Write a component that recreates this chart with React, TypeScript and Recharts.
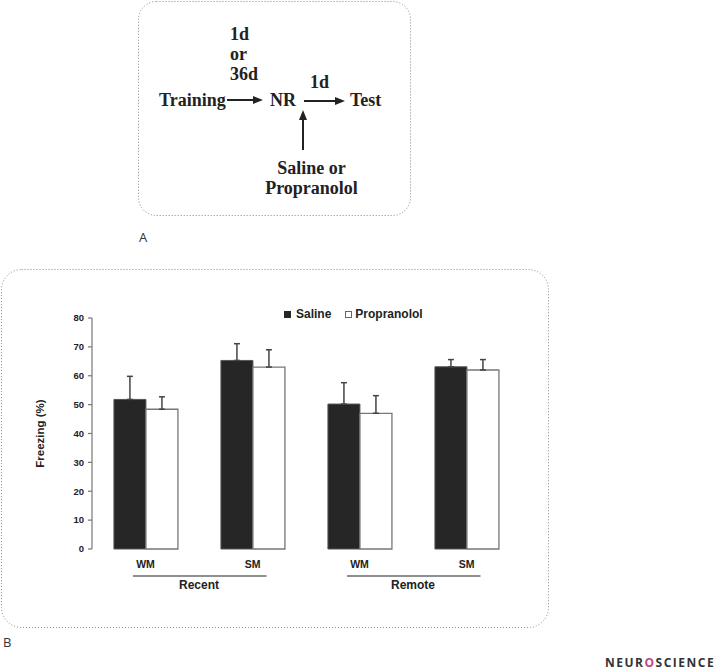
import React from 'react';
import { BarChart, Bar, XAxis, YAxis, ErrorBar, Legend } from 'recharts';

// values
const categories = ['WM', 'SM', 'WM', 'SM'];
const periods = ['Recent', 'Recent', 'Remote', 'Remote'];
const seriesNames = ['Saline', 'Propranolol'];
const saline = [51.8, 65.3, 50.2, 63.1];
const salineErr = [8.0, 5.8, 7.4, 2.5];
const propranolol = [48.4, 63.0, 47.0, 62.0];
const propranololErr = [4.3, 6.0, 6.1, 3.6];
const yTicks = [0, 10, 20, 30, 40, 50, 60, 70, 80];

const data = categories.map((c, i) => ({
  id: `${periods[i]}-${c}`,
  saline: saline[i],
  salineErr: [0, salineErr[i]],
  propranolol: propranolol[i],
  propranololErr: [0, propranololErr[i]],
}));

const FONT = '"Liberation Sans", Arial, sans-serif';
const SERIF = '"Liberation Serif", "Times New Roman", serif';

const CHART_W = 560;
const CHART_H = 360;
const MARGIN = { top: 58, right: 40, bottom: 31, left: 52 };
const Y_W = 40;
const X_H = 40;
const BAND = (CHART_W - MARGIN.left - MARGIN.right - Y_W) / categories.length;

function GroupTick(props: any) {
  const { x, y, index } = props;
  const first = index % 2 === 0;
  return (
    <g>
      <text x={x} y={y} dy={11} textAnchor="middle" fontFamily={FONT} fontWeight={700} fontSize={10.5} fill="#222">
        {categories[index]}
      </text>
      {first && (
        <g>
          <line x1={x - 12.5} x2={x + BAND + 14} y1={y + 19} y2={y + 19} stroke="#222" strokeWidth={1.2} />
          <text x={x + BAND / 2} y={y + 32} textAnchor="middle" fontFamily={FONT} fontWeight={700} fontSize={12} fill="#222">
            {periods[index]}
          </text>
        </g>
      )}
    </g>
  );
}

function YLabel(props: any) {
  const vb = props.viewBox || {};
  const cx = vb.x - 12;
  const cy = vb.y + vb.height / 2;
  return (
    <text
      x={cx}
      y={cy}
      transform={`rotate(-90, ${cx}, ${cy})`}
      textAnchor="middle"
      dominantBaseline="central"
      fontFamily={FONT}
      fontWeight={700}
      fontSize={11.5}
      fill="#222"
    >
      Freezing (%)
    </text>
  );
}

const renderLegend = (props: any) => {
  const items = [...(props.payload || [])].sort(
    (a: any, b: any) => seriesNames.indexOf(a.value) - seriesNames.indexOf(b.value)
  );
  return (
    <div style={{ display: 'flex', alignItems: 'center', fontFamily: FONT, fontWeight: 700, fontSize: 12, color: '#222', whiteSpace: 'nowrap', lineHeight: '14px' }}>
      {items.map((it: any, i: number) => (
        <span key={it.value} style={{ display: 'flex', alignItems: 'center', marginLeft: i === 0 ? 0 : 14 }}>
          <span
            style={{
              display: 'inline-block',
              width: i === 0 ? 7 : 5,
              height: i === 0 ? 7 : 5,
              background: i === 0 ? '#262626' : '#fff',
              border: i === 0 ? 'none' : '1px solid #666',
              marginRight: i === 0 ? 5 : 3,
            }}
          />
          <span>{it.value}</span>
        </span>
      ))}
    </div>
  );
};

function Arrow({ x1, y1, x2, y2 }: { x1: number; y1: number; x2: number; y2: number }) {
  const ang = Math.atan2(y2 - y1, x2 - x1);
  const L = 10;
  const H = 4;
  const bx = x2 - L * Math.cos(ang);
  const by = y2 - L * Math.sin(ang);
  const px = -Math.sin(ang) * H;
  const py = Math.cos(ang) * H;
  return (
    <g>
      <line x1={x1} y1={y1} x2={bx} y2={by} stroke="#222" strokeWidth={2} />
      <polygon points={`${x2},${y2} ${bx + px},${by + py} ${bx - px},${by - py}`} fill="#222" />
    </g>
  );
}

export default function App() {
  return (
    <div style={{ position: 'absolute', left: 0, top: 0, width: 725, height: 671, background: '#fff' }}>
      <svg width={725} height={671} style={{ position: 'absolute', left: 0, top: 0 }}>
        {/* panel A */}
        <rect x={138.5} y={1.5} width={272} height={214} rx={18} fill="none" stroke="#888" strokeDasharray="1 2" />
        <g fontFamily={SERIF} fontWeight={700} fontSize={18} fill="#222">
          <text x={230} y={40}>1d</text>
          <text x={230} y={60}>or</text>
          <text x={230} y={80}>36d</text>
          <text x={310} y={88}>1d</text>
          <text x={159} y={106}>Training</text>
          <text x={270} y={106}>NR</text>
          <text x={350} y={106}>Test</text>
          <text x={311.5} y={173.5} textAnchor="middle">Saline or</text>
          <text x={311.5} y={193.5} textAnchor="middle">Propranolol</text>
        </g>
        <Arrow x1={227} y1={100} x2={263} y2={100} />
        <Arrow x1={304} y1={101} x2={345} y2={101} />
        <Arrow x1={303} y1={150} x2={303} y2={110} />
        <text x={139} y={242} fontFamily='"Open Sans", sans-serif' fontSize={13} fill="#333">A</text>

        {/* panel B frame */}
        <rect x={1.5} y={269.5} width={547} height={358} rx={20} fill="none" stroke="#888" strokeDasharray="1 2" />
        <text x={3} y={647} fontFamily='"Open Sans", sans-serif' fontSize={13} fill="#333">B</text>

        <text x={605} y={667} fontFamily='"Open Sans", sans-serif' fontWeight={700} fontSize={12} letterSpacing={1.5} fill="#333">
          NEUR<tspan fill="#c0458a">O</tspan>SCIENCE
        </text>
      </svg>

      <div style={{ position: 'absolute', left: 0, top: 260 }}>
        <BarChart width={CHART_W} height={CHART_H} data={data} margin={MARGIN} barCategoryGap="20.5%" barGap={0}>
          <XAxis
            dataKey="id"
            height={X_H}
            axisLine={false}
            tickLine={false}
            interval={0}
            tick={<GroupTick />}
          />
          <YAxis
            width={Y_W}
            domain={[0, 80]}
            ticks={yTicks}
            interval={0}
            axisLine={{ stroke: '#777', strokeWidth: 1.2 }}
            tickLine={{ stroke: '#777', strokeWidth: 1.2 }}
            tickSize={4}
            tickMargin={4}
            tick={{ fontFamily: FONT, fontWeight: 700, fontSize: 9.5, fill: '#222' }}
            label={<YLabel />}
          />
          <Legend
            layout="vertical"
            align="center"
            verticalAlign="middle"
            content={renderLegend}
            wrapperStyle={{ position: 'absolute', top: 47, left: 284, width: 200, height: 14 }}
          />
          <Bar dataKey="saline" name="Saline" fill="#262626" stroke="#555" strokeWidth={1} isAnimationActive={false}>
            <ErrorBar dataKey="salineErr" width={3} stroke="#444" strokeWidth={1.5} direction="y" />
          </Bar>
          <Bar dataKey="propranolol" name="Propranolol" fill="#fff" stroke="#777" strokeWidth={1.3} isAnimationActive={false}>
            <ErrorBar dataKey="propranololErr" width={3} stroke="#444" strokeWidth={1.5} direction="y" />
          </Bar>
        </BarChart>
      </div>
    </div>
  );
}
